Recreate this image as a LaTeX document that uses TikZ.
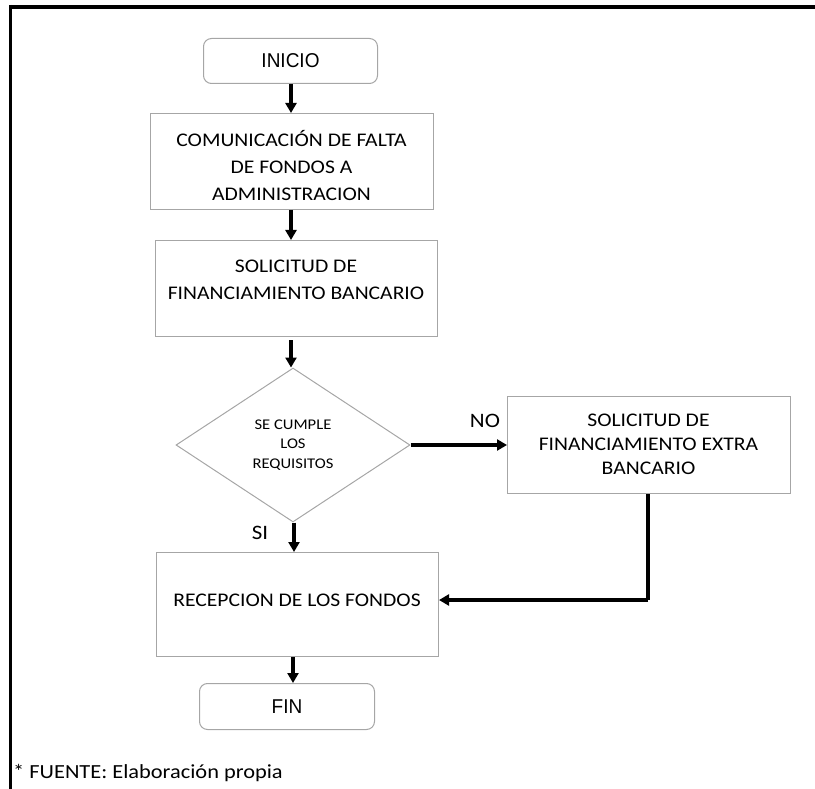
\documentclass[tikz,border=0pt]{standalone}
\usepackage{fontspec}
\setmainfont{Carlito}
\newfontfamily\calf[FakeStretch=1.12]{Carlito}
\newfontfamily\arialf[FakeStretch=0.95]{Liberation Sans}
\usetikzlibrary{shapes.geometric,arrows.meta}
\definecolor{boxgray}{HTML}{A6A6A6}
\begin{document}
\begin{tikzpicture}[x=1pt,y=-1pt,
  box/.style={draw=boxgray, line width=1pt, inner sep=0pt, anchor=north west},
  txt/.style={inner sep=0pt, align=center, font=\calf\fontsize{19.3}{27}\selectfont},
  term/.style={draw=boxgray, line width=1pt, rounded corners=8pt, inner sep=0pt, anchor=north west,
    font=\arialf\fontsize{20}{22}\selectfont},
  dec/.style={draw=boxgray, line width=1pt, diamond, inner sep=0pt, aspect=1.5, align=center,
    font=\calf\fontsize{14.8}{19.5}\selectfont},
  lbl/.style={inner sep=0pt, font=\calf\fontsize{20.5}{22}\selectfont},
  arr/.style={line width=3.2pt, -{Triangle[length=10pt,width=11pt]}},
  plain/.style={line width=3.2pt},
]
\useasboundingbox (0,0) rectangle (815,789);
% frame
\draw[line width=4pt] (10.5,7) -- (815,7);
\draw[line width=3.3pt] (10.5,5) -- (10.5,789);

% nodes
\node[term, minimum width=174pt, minimum height=45pt] (ini) at (203,38) {INICIO};
\node[box, minimum width=283pt, minimum height=96pt] (com) at (150,113) {};
\node[txt] (comt) at (291.5,166) {COMUNICACIÓN DE FALTA\\DE FONDOS A\\ADMINISTRACION};
\node[box, minimum width=282pt, minimum height=96pt] (sol) at (155,240) {};
\node[txt] (solt) at (296,280) {SOLICITUD DE\\FINANCIAMIENTO BANCARIO};
\node[dec, minimum width=234pt, minimum height=154pt] (dec) at (293,445) {SE CUMPLE\\LOS\\REQUISITOS};
\node[box, minimum width=283pt, minimum height=97pt] (ext) at (507,396) {};
\node[txt, font=\calf\fontsize{19.3}{24}\selectfont] (extt) at (648.5,444) {SOLICITUD DE\\FINANCIAMIENTO EXTRA\\BANCARIO};
\node[box, minimum width=282pt, minimum height=104pt] (rec) at (156,552) {};
\node[txt] (rect) at (297,600) {RECEPCION DE LOS FONDOS};
\node[term, minimum width=175pt, minimum height=46pt] (fin) at (199,683) {FIN};

\node[lbl] (no) at (485,421) {NO};
\node[lbl] (si) at (260,533) {SI};
\node[inner sep=0pt, anchor=west, font=\calf\fontsize{20}{22}\selectfont] (src) at (13,773) {* FUENTE: Elaboración propia};

% connectors
\draw[arr] (ini.south -| 291,0) -- (com.north -| 291,0);
\draw[arr] (com.south -| 291,0) -- (sol.north -| 291,0);
\draw[arr] (sol.south -| 291,0) ++(0,3) -- (dec.north -| 291,0);
\draw[arr] (dec.east) -- (ext.west |- dec.east);
\coordinate (ret) at (648,600);
\draw[plain] (ext.south -| ret) -- (ret);
\draw[arr] (ret) -- (rec.east |- ret);
\draw[arr] (dec.south -| 294,0) -- (rec.north -| 294,0);
\draw[arr] (rec.south -| 293,0) -- (fin.north -| 293,0);
\end{tikzpicture}
\end{document}
